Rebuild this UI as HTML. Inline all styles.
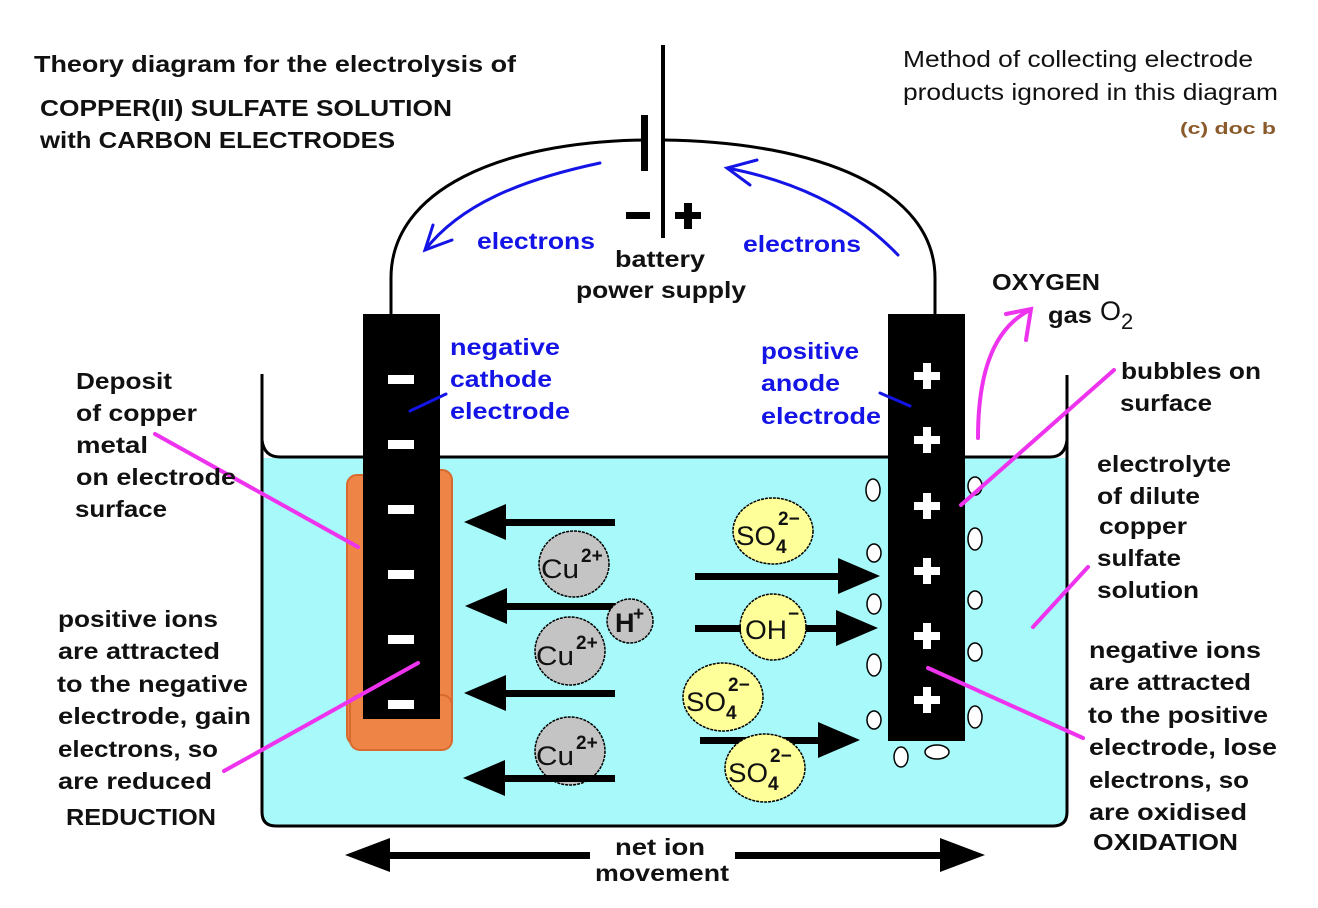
<!DOCTYPE html>
<html><head><meta charset="utf-8"><style>
html,body{margin:0;padding:0;background:#fff;}
svg{display:block;}
text{font-family:"Liberation Sans Narrow","Liberation Sans",sans-serif;font-weight:bold;}
.b{fill:#111;font-size:23px;}
.bl{fill:#1414e6;font-size:23px;}
.n{font-weight:normal;font-size:23px;fill:#111;}
.ion{font-weight:normal;font-size:27px;fill:#111;}
.sup{font-weight:bold;font-size:19px;fill:#111;}
</style></head><body>
<svg width="1318" height="908" viewBox="0 0 1318 908" xmlns="http://www.w3.org/2000/svg">
<!-- water -->
<path d="M262 458 L1067 458 L1067 812 Q1067 826 1053 826 L276 826 Q262 826 262 812 Z" fill="#a8fafa"/>
<path d="M262 374 L262 812 Q262 826 276 826 L1053 826 Q1067 826 1067 812 L1067 375" fill="none" stroke="#000" stroke-width="3"/>
<path d="M262 440 Q264 457 280 457 L1050 457 Q1065 457 1067 440" fill="none" stroke="#000" stroke-width="3"/>
<!-- wire -->
<path d="M391 314 L391 278 C391 190 500 142 644 140" fill="none" stroke="#000" stroke-width="3"/>
<path d="M663 140 C820 142 935 190 935 278 L935 314" fill="none" stroke="#000" stroke-width="3"/>
<!-- battery -->
<rect x="661" y="45" width="4" height="193" fill="#000"/>
<rect x="641" y="115" width="7" height="56" fill="#000"/>
<rect x="626" y="212" width="24" height="7" fill="#000"/>
<rect x="675" y="212" width="26" height="7" fill="#000"/>
<rect x="684" y="203" width="8" height="26" fill="#000"/>
<!-- copper deposit -->
<g fill="#ee8445" stroke="#d86a30" stroke-width="2">
<rect x="347" y="475" width="25" height="270" rx="10"/>
<rect x="424" y="470" width="28" height="275" rx="10"/>
<rect x="350" y="695" width="102" height="55" rx="10"/>
</g>
<!-- electrodes -->
<rect x="363" y="314" width="77" height="405" fill="#000"/>
<rect x="888" y="314" width="77" height="427" fill="#000"/>
<g fill="#fff">
<rect x="388" y="375" width="26" height="9"/>
<rect x="388" y="440" width="26" height="9"/>
<rect x="388" y="505" width="26" height="9"/>
<rect x="388" y="570" width="26" height="9"/>
<rect x="388" y="635" width="26" height="9"/>
<rect x="388" y="700" width="26" height="9"/>
</g>
<g fill="#fff">
<g transform="translate(927,376)"><rect x="-13" y="-4" width="26" height="8"/><rect x="-4" y="-13" width="8" height="26"/></g>
<g transform="translate(927,440)"><rect x="-13" y="-4" width="26" height="8"/><rect x="-4" y="-13" width="8" height="26"/></g>
<g transform="translate(927,506)"><rect x="-13" y="-4" width="26" height="8"/><rect x="-4" y="-13" width="8" height="26"/></g>
<g transform="translate(927,571)"><rect x="-13" y="-4" width="26" height="8"/><rect x="-4" y="-13" width="8" height="26"/></g>
<g transform="translate(927,636)"><rect x="-13" y="-4" width="26" height="8"/><rect x="-4" y="-13" width="8" height="26"/></g>
<g transform="translate(927,700)"><rect x="-13" y="-4" width="26" height="8"/><rect x="-4" y="-13" width="8" height="26"/></g>
</g>
<!-- bubbles -->
<g fill="#fff" stroke="#000" stroke-width="1.5">
<ellipse cx="873" cy="490" rx="7" ry="11"/>
<ellipse cx="874" cy="553" rx="7" ry="9"/>
<ellipse cx="874" cy="604" rx="7" ry="10"/>
<ellipse cx="874" cy="665" rx="7" ry="11"/>
<ellipse cx="874" cy="720" rx="7" ry="9"/>
<ellipse cx="901" cy="757" rx="7" ry="10"/>
<ellipse cx="937" cy="752" rx="12" ry="7"/>
<ellipse cx="975" cy="486" rx="7" ry="9"/>
<ellipse cx="975" cy="539" rx="7" ry="11"/>
<ellipse cx="975" cy="600" rx="7" ry="9"/>
<ellipse cx="975" cy="652" rx="7" ry="9"/>
<ellipse cx="975" cy="717" rx="7" ry="11"/>
</g>
<!-- arrows -->
<g fill="#000">
<rect x="500" y="519" width="115" height="7"/><polygon points="464,522 506,504 506,540"/>
<rect x="500" y="603" width="115" height="7"/><polygon points="465,606 507,588 507,624"/>
<rect x="500" y="690" width="115" height="7"/><polygon points="464,693 506,675 506,711"/>
<rect x="500" y="775" width="115" height="7"/><polygon points="463,778 505,760 505,796"/>
<rect x="695" y="573" width="150" height="7"/><polygon points="880,576 838,558 838,594"/>
<rect x="695" y="625" width="150" height="7"/><polygon points="878,628 836,610 836,646"/>
<rect x="700" y="737" width="130" height="7"/><polygon points="860,740 818,722 818,758"/>
</g>
<!-- ions -->
<g stroke="#000" stroke-width="1.5" stroke-dasharray="3 1">
<ellipse cx="574" cy="564" rx="35" ry="33" fill="#c4c4c4"/>
<ellipse cx="570" cy="651" rx="35" ry="34" fill="#c4c4c4"/>
<ellipse cx="570" cy="751" rx="35" ry="34" fill="#c4c4c4"/>
<ellipse cx="630" cy="621" rx="23" ry="22" fill="#c4c4c4"/>
<ellipse cx="773" cy="531" rx="40" ry="33" fill="#ffff9a"/>
<ellipse cx="773" cy="627" rx="33" ry="33" fill="#ffff9a"/>
<ellipse cx="723" cy="697" rx="40" ry="34" fill="#ffff9a"/>
<ellipse cx="765" cy="768" rx="40" ry="34" fill="#ffff9a"/>
</g>
<rect x="695" y="625" width="46" height="7" fill="#000"/>
<rect x="806" y="625" width="40" height="7" fill="#000"/>
<rect x="520" y="775" width="95" height="7" fill="#000"/>
<text class="ion" x="541" y="578" textLength="38" lengthAdjust="spacingAndGlyphs">Cu</text><text class="sup" x="581" y="562">2+</text>
<text class="ion" x="536" y="665" textLength="38" lengthAdjust="spacingAndGlyphs">Cu</text><text class="sup" x="576" y="649">2+</text>
<text class="ion" x="536" y="765" textLength="38" lengthAdjust="spacingAndGlyphs">Cu</text><text class="sup" x="576" y="749">2+</text>
<text class="ion" x="615" y="632" style="font-weight:bold" font-size="24">H</text><text class="sup" x="633" y="620" font-size="16">+</text>
<text class="ion" x="736" y="545" textLength="40" lengthAdjust="spacingAndGlyphs">SO</text><text class="sup" x="776" y="553" font-size="16">4</text><text class="sup" x="778" y="525">2−</text>
<text class="ion" x="745" y="639" textLength="42" lengthAdjust="spacingAndGlyphs">OH</text><text class="sup" x="788" y="620">−</text>
<text class="ion" x="686" y="711" textLength="40" lengthAdjust="spacingAndGlyphs">SO</text><text class="sup" x="726" y="719" font-size="16">4</text><text class="sup" x="728" y="691">2−</text>
<text class="ion" x="728" y="782" textLength="40" lengthAdjust="spacingAndGlyphs">SO</text><text class="sup" x="768" y="790" font-size="16">4</text><text class="sup" x="770" y="762">2−</text>
<!-- magenta lines -->
<g stroke="#ee33ee" stroke-width="4" fill="none" stroke-linecap="round">
<line x1="155" y1="434" x2="358" y2="547"/>
<line x1="224" y1="771" x2="418" y2="663"/>
<line x1="1114" y1="370" x2="961" y2="505"/>
<line x1="1083" y1="738" x2="928" y2="668"/>
<line x1="1088" y1="567" x2="1033" y2="627"/>
<path d="M978 438 C978 380 990 330 1030 310"/>
<path d="M1006 314 L1031 309 L1026 340"/>
</g>
<!-- blue -->
<g stroke="#1414e6" stroke-width="3" fill="none" stroke-linecap="round">
<line x1="410" y1="411" x2="446" y2="394"/>
<line x1="910" y1="406" x2="880" y2="393"/>
<path d="M600 163 C520 180 460 205 425 250"/>
<path d="M433 225 L425 250 L452 240"/>
<path d="M898 255 C850 205 790 180 727 168"/>
<path d="M757 160 L727 168 L750 185"/>
</g>
<!-- net ion arrow -->
<g fill="#000">
<rect x="380" y="852" width="210" height="7"/>
<rect x="735" y="852" width="215" height="7"/>
<polygon points="345,855 390,838 390,872"/>
<polygon points="985,855 940,838 940,872"/>
</g>
<!-- texts -->
<text class="b" x="34" y="72" textLength="482" lengthAdjust="spacingAndGlyphs">Theory diagram for the electrolysis of</text>
<text class="b" x="40" y="116" textLength="412" lengthAdjust="spacingAndGlyphs">COPPER(II) SULFATE SOLUTION</text>
<text class="b" x="40" y="148" textLength="355" lengthAdjust="spacingAndGlyphs">with CARBON ELECTRODES</text>
<text class="n" x="903" y="67" textLength="350" lengthAdjust="spacingAndGlyphs">Method of collecting electrode</text>
<text class="n" x="903" y="100" textLength="375" lengthAdjust="spacingAndGlyphs">products ignored in this diagram</text>
<text x="1180" y="134" font-size="17" fill="#8b5a2b" textLength="96" lengthAdjust="spacingAndGlyphs">(c) doc b</text>
<text class="bl" x="477" y="249" textLength="118" lengthAdjust="spacingAndGlyphs">electrons</text>
<text class="bl" x="743" y="252" textLength="118" lengthAdjust="spacingAndGlyphs">electrons</text>
<text class="b" x="615" y="267" textLength="90" lengthAdjust="spacingAndGlyphs">battery</text>
<text class="b" x="576" y="298" textLength="170" lengthAdjust="spacingAndGlyphs">power supply</text>
<text class="bl" x="450" y="355" textLength="110" lengthAdjust="spacingAndGlyphs">negative</text>
<text class="bl" x="450" y="387" textLength="102" lengthAdjust="spacingAndGlyphs">cathode</text>
<text class="bl" x="450" y="419" textLength="120" lengthAdjust="spacingAndGlyphs">electrode</text>
<text class="bl" x="761" y="359" textLength="98" lengthAdjust="spacingAndGlyphs">positive</text>
<text class="bl" x="761" y="391" textLength="79" lengthAdjust="spacingAndGlyphs">anode</text>
<text class="bl" x="761" y="424" textLength="120" lengthAdjust="spacingAndGlyphs">electrode</text>
<text class="b" x="992" y="290" textLength="108" lengthAdjust="spacingAndGlyphs">OXYGEN</text>
<text class="b" x="1048" y="323" textLength="44" lengthAdjust="spacingAndGlyphs">gas</text>
<text x="1100" y="320" font-size="27" fill="#111" style="font-weight:normal;font-family:'Liberation Sans',sans-serif">O</text>
<text x="1121" y="329" font-size="22" fill="#111" style="font-weight:normal;font-family:'Liberation Sans',sans-serif">2</text>
<text class="b" x="76" y="389" textLength="96" lengthAdjust="spacingAndGlyphs">Deposit</text>
<text class="b" x="76" y="421" textLength="121" lengthAdjust="spacingAndGlyphs">of copper</text>
<text class="b" x="76" y="453" textLength="72" lengthAdjust="spacingAndGlyphs">metal</text>
<text class="b" x="76" y="485" textLength="160" lengthAdjust="spacingAndGlyphs">on electrode</text>
<text class="b" x="75" y="517" textLength="92" lengthAdjust="spacingAndGlyphs">surface</text>
<text class="b" x="58" y="627" textLength="160" lengthAdjust="spacingAndGlyphs">positive ions</text>
<text class="b" x="58" y="659" textLength="162" lengthAdjust="spacingAndGlyphs">are attracted</text>
<text class="b" x="57" y="692" textLength="191" lengthAdjust="spacingAndGlyphs">to the negative</text>
<text class="b" x="58" y="724" textLength="193" lengthAdjust="spacingAndGlyphs">electrode, gain</text>
<text class="b" x="58" y="757" textLength="160" lengthAdjust="spacingAndGlyphs">electrons, so</text>
<text class="b" x="58" y="789" textLength="154" lengthAdjust="spacingAndGlyphs">are reduced</text>
<text class="b" x="66" y="825" textLength="150" lengthAdjust="spacingAndGlyphs">REDUCTION</text>
<text class="b" x="1121" y="379" textLength="140" lengthAdjust="spacingAndGlyphs">bubbles on</text>
<text class="b" x="1120" y="411" textLength="92" lengthAdjust="spacingAndGlyphs">surface</text>
<text class="b" x="1097" y="472" textLength="134" lengthAdjust="spacingAndGlyphs">electrolyte</text>
<text class="b" x="1097" y="504" textLength="103" lengthAdjust="spacingAndGlyphs">of dilute</text>
<text class="b" x="1099" y="534" textLength="88" lengthAdjust="spacingAndGlyphs">copper</text>
<text class="b" x="1097" y="566" textLength="84" lengthAdjust="spacingAndGlyphs">sulfate</text>
<text class="b" x="1097" y="598" textLength="102" lengthAdjust="spacingAndGlyphs">solution</text>
<text class="b" x="1089" y="658" textLength="172" lengthAdjust="spacingAndGlyphs">negative ions</text>
<text class="b" x="1089" y="690" textLength="162" lengthAdjust="spacingAndGlyphs">are attracted</text>
<text class="b" x="1088" y="723" textLength="180" lengthAdjust="spacingAndGlyphs">to the positive</text>
<text class="b" x="1089" y="755" textLength="188" lengthAdjust="spacingAndGlyphs">electrode, lose</text>
<text class="b" x="1089" y="788" textLength="160" lengthAdjust="spacingAndGlyphs">electrons, so</text>
<text class="b" x="1089" y="820" textLength="158" lengthAdjust="spacingAndGlyphs">are oxidised</text>
<text class="b" x="1093" y="850" textLength="145" lengthAdjust="spacingAndGlyphs">OXIDATION</text>
<text class="b" x="615" y="855" textLength="90" lengthAdjust="spacingAndGlyphs">net ion</text>
<text class="b" x="595" y="881" textLength="134" lengthAdjust="spacingAndGlyphs">movement</text>
</svg>
</body></html>
